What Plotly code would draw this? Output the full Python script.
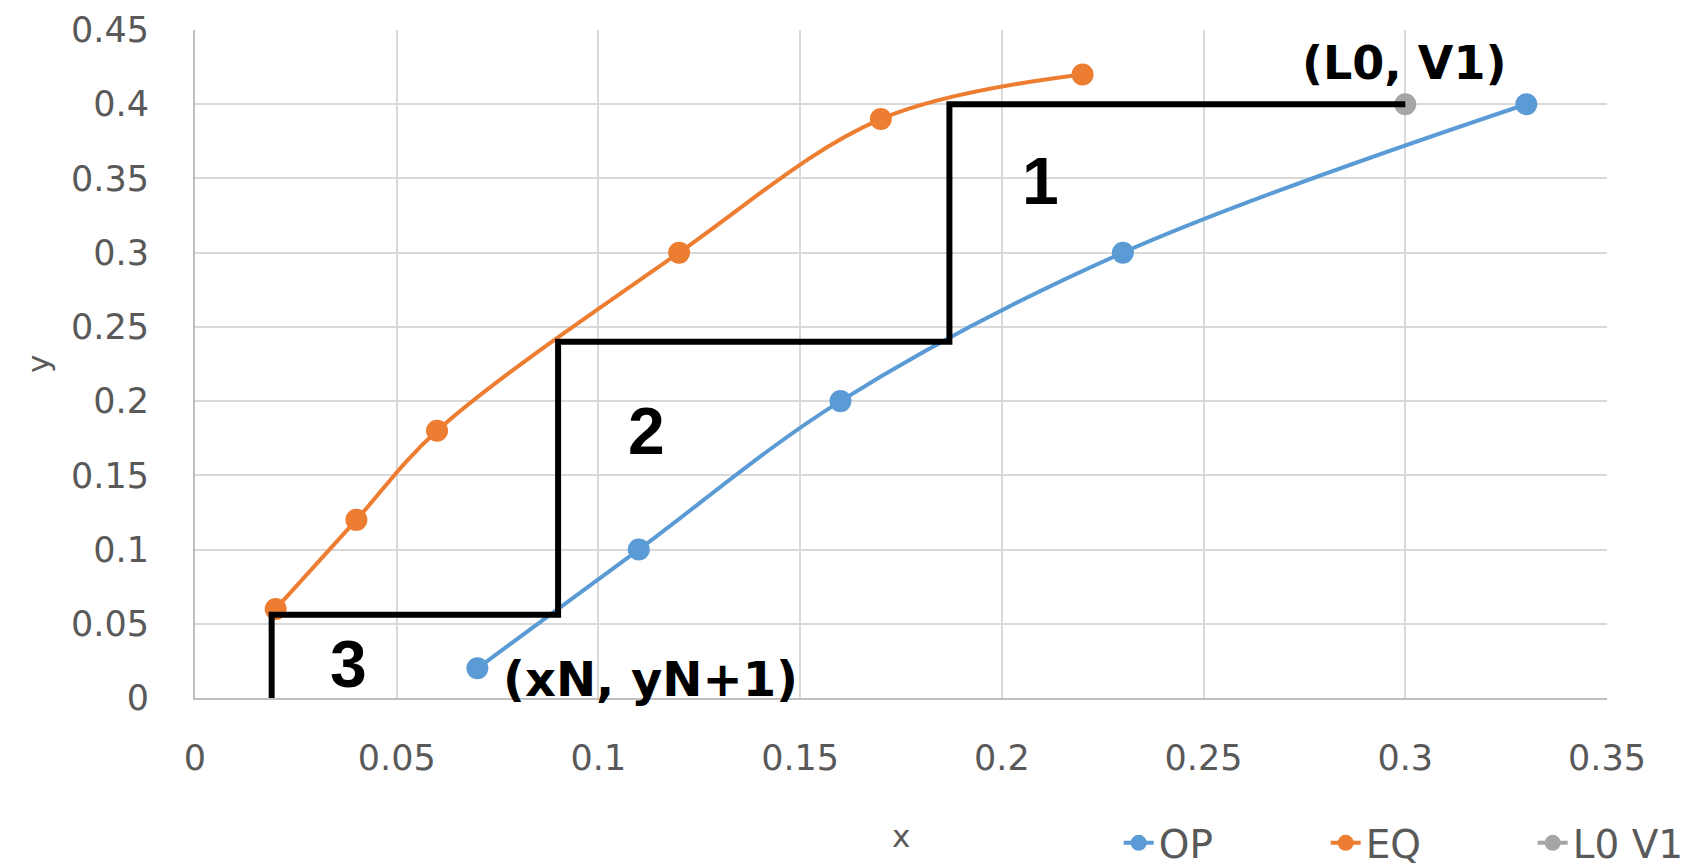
import plotly.graph_objects as go

op_x = [0.07, 0.11, 0.16, 0.23, 0.33]
op_y = [0.02, 0.10, 0.20, 0.30, 0.40]
eq_x = [0.02, 0.04, 0.06, 0.12, 0.17, 0.22]
eq_y = [0.06, 0.12, 0.18, 0.30, 0.39, 0.42]
l0v1_x = [0.30]
l0v1_y = [0.40]
stair_x = [0.30, 0.187, 0.187, 0.09, 0.09, 0.019, 0.019]
stair_y = [0.40, 0.40, 0.24, 0.24, 0.056, 0.056, 0.0]
stage_labels = ["1", "2", "3"]
stage_x = [0.2095, 0.112, 0.038]
stage_y = [0.348, 0.18, 0.023]
x_ticks = [0, 0.05, 0.1, 0.15, 0.2, 0.25, 0.3, 0.35]
x_tick_text = ["0", "0.05", "0.1", "0.15", "0.2", "0.25", "0.3", "0.35"]
y_ticks = [0, 0.05, 0.1, 0.15, 0.2, 0.25, 0.3, 0.35, 0.4, 0.45]
y_tick_text = ["0", "0.05", "0.1", "0.15", "0.2", "0.25", "0.3", "0.35", "0.4", "0.45"]

BLUE = "#5b9bd5"
ORANGE = "#ed7d31"
GRAY = "#a5a5a5"
TXT = "#595959"
TICKFONT = dict(family="DejaVu Sans", size=35, color=TXT)
TITLEFONT = dict(family="DejaVu Sans", size=31, color=TXT)

fig = go.Figure()
fig.add_trace(go.Scatter(x=op_x, y=op_y, name="OP", mode="lines+markers",
                         line=dict(color=BLUE, width=4, shape="spline"),
                         marker=dict(color=BLUE, size=22)))
fig.add_trace(go.Scatter(x=eq_x, y=eq_y, name="EQ", mode="lines+markers",
                         line=dict(color=ORANGE, width=4, shape="spline"),
                         marker=dict(color=ORANGE, size=22)))
fig.add_trace(go.Scatter(x=l0v1_x, y=l0v1_y, name="L0 V1", mode="lines+markers",
                         line=dict(color=GRAY, width=4),
                         marker=dict(color=GRAY, size=22)))
fig.add_trace(go.Scatter(x=stair_x, y=stair_y, mode="lines", showlegend=False,
                         line=dict(color="black", width=6)))

for t, sx, sy in zip(stage_labels, stage_x, stage_y):
    fig.add_annotation(x=sx, y=sy, text=f"<b>{t}</b>", showarrow=False,
                       font=dict(family="Liberation Sans", size=66, color="black"))

fig.add_annotation(x=0.2997, y=0.428, text="<b>(L0, V1)</b>", showarrow=False,
                   font=dict(family="DejaVu Sans", size=46, color="black"))
fig.add_annotation(x=0.0759, y=0.013, text="<b>(xN, yN+1)</b>", showarrow=False,
                   xanchor="left",
                   font=dict(family="DejaVu Sans", size=48, color="black"))

# axis titles
fig.add_annotation(xref="paper", yref="paper", x=0.5, y=-0.2066, text="x",
                   showarrow=False, yanchor="middle", font=TITLEFONT)
fig.add_annotation(xref="paper", yref="paper", x=-0.1112, y=0.5, text="y",
                   showarrow=False, textangle=-90, xanchor="center", font=TITLEFONT)

fig.update_layout(
    width=1703, height=867,
    margin=dict(l=187, r=104, t=22, b=177, autoexpand=False),
    plot_bgcolor="white", paper_bgcolor="white",
    showlegend=True,
    legend=dict(orientation="h", xref="container", yref="container",
                x=0.6522, y=0.0369, yanchor="middle", xanchor="left",
                font=dict(family="DejaVu Sans", size=39, color=TXT),
                entrywidth=162, entrywidthmode="pixels",
                bgcolor="rgba(0,0,0,0)"),
    xaxis=dict(range=[0, 0.35], tickvals=x_ticks, ticktext=x_tick_text,
               automargin=False,
               showgrid=True, gridcolor="#d9d9d9", gridwidth=2,
               zeroline=False, showline=True, linecolor="#bfbfbf", linewidth=2,
               ticks="", ticklabelstandoff=28, tickfont=TICKFONT),
    yaxis=dict(range=[0, 0.45], tickvals=y_ticks, ticktext=y_tick_text,
               automargin=False,
               showgrid=True, gridcolor="#d9d9d9", gridwidth=2,
               zeroline=False, showline=True, linecolor="#bfbfbf", linewidth=2,
               ticks="", ticklabelstandoff=37, tickfont=TICKFONT),
)

fig.write_html("out.html")
